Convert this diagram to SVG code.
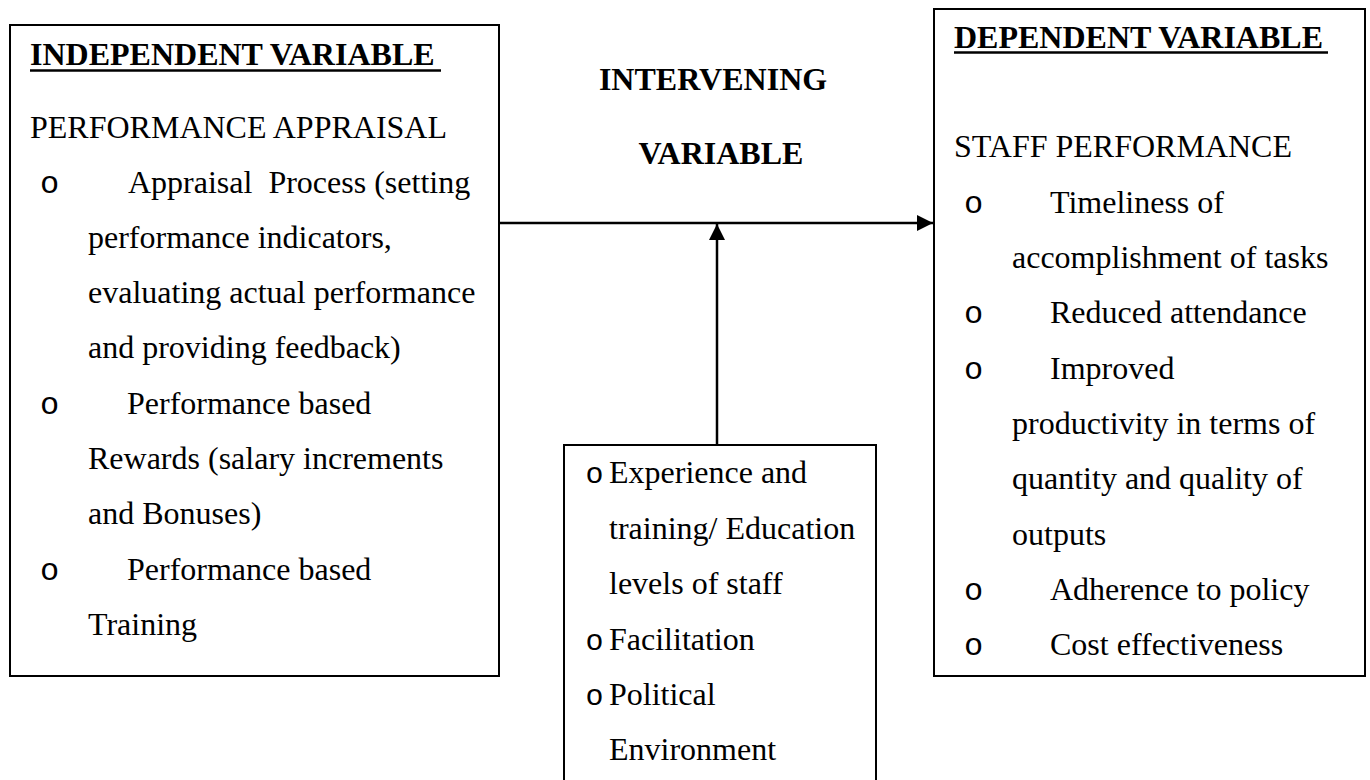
<svg xmlns="http://www.w3.org/2000/svg" width="1370" height="780" viewBox="0 0 1370 780">
  <style>
    .t { font-family: "Liberation Serif", "Times New Roman", serif; font-size: 32px; fill: #000; white-space: pre; }
    .b { font-weight: bold; }
    .mid { text-anchor: middle; }
    .bul { font-family: "Liberation Mono", "Courier New", monospace; font-size: 32px; fill: #000; text-anchor: middle; }
    .bul-s { font-family: "Liberation Mono", "Courier New", monospace; font-size: 30px; fill: #000; text-anchor: middle; }
    .box { fill: #fff; stroke: #000; stroke-width: 2; }
    .ul { stroke: #000; stroke-width: 2.5; }
    .conn { stroke: #000; stroke-width: 2.5; fill: none; marker-end: url(#arrow); }
  </style>
  <defs>
    <marker id="arrow" markerUnits="userSpaceOnUse" markerWidth="16" markerHeight="16" refX="16" refY="8" orient="auto">
      <path d="M0,0 L16,8 L0,16 z" fill="#000"/>
    </marker>
  </defs>
  <rect width="1370" height="780" fill="#fff"/>

  <!-- Independent variable -->
  <g id="independent">
    <rect class="box" x="10" y="25" width="489" height="651"/>
    <text class="t b" x="30" y="65">INDEPENDENT VARIABLE</text>
    <line class="ul" x1="30" y1="70.5" x2="441" y2="70.5"/>
    <text class="t" x="30" y="138">PERFORMANCE APPRAISAL</text>
    <text class="bul" x="49.5" y="193">o</text>
    <text class="t" x="128" y="193" xml:space="preserve">Appraisal  Process (setting</text>
    <text class="t" x="88" y="248">performance indicators,</text>
    <text class="t" x="88" y="303">evaluating actual performance</text>
    <text class="t" x="88" y="358">and providing feedback)</text>
    <text class="bul" x="49.5" y="414">o</text>
    <text class="t" x="127" y="414">Performance based</text>
    <text class="t" x="88" y="469">Rewards (salary increments</text>
    <text class="t" x="88" y="524">and Bonuses)</text>
    <text class="bul" x="49.5" y="580">o</text>
    <text class="t" x="127" y="580">Performance based</text>
    <text class="t" x="88" y="635">Training</text>
  </g>

  <!-- Intervening variable title -->
  <g id="intervening-title">
    <text class="t b mid" x="713" y="90">INTERVENING</text>
    <text class="t b mid" x="721" y="164">VARIABLE</text>
  </g>

  <!-- Intervening factors -->
  <g id="intervening">
    <rect class="box" x="564" y="445" width="312" height="345"/>
    <text class="bul-s" x="594.5" y="483">o</text>
    <text class="t" x="609" y="483">Experience and</text>
    <text class="t" x="609" y="538.5">training/ Education</text>
    <text class="t" x="609" y="594">levels of staff</text>
    <text class="bul-s" x="594.5" y="649.5">o</text>
    <text class="t" x="609" y="649.5">Facilitation</text>
    <text class="bul-s" x="594.5" y="705">o</text>
    <text class="t" x="609" y="705">Political</text>
    <text class="t" x="609" y="760">Environment</text>
  </g>

  <!-- Dependent variable -->
  <g id="dependent">
    <rect class="box" x="934" y="9" width="431" height="667"/>
    <text class="t b" x="954" y="48">DEPENDENT VARIABLE</text>
    <line class="ul" x1="954" y1="52.5" x2="1328" y2="52.5"/>
    <text class="t" x="954" y="157">STAFF PERFORMANCE</text>
    <text class="bul" x="973.5" y="213">o</text>
    <text class="t" x="1050" y="213">Timeliness of</text>
    <text class="t" x="1012" y="268">accomplishment of tasks</text>
    <text class="bul" x="973.5" y="323">o</text>
    <text class="t" x="1050" y="323">Reduced attendance</text>
    <text class="bul" x="973.5" y="379">o</text>
    <text class="t" x="1050" y="379">Improved</text>
    <text class="t" x="1012" y="434">productivity in terms of</text>
    <text class="t" x="1012" y="489">quantity and quality of</text>
    <text class="t" x="1012" y="545">outputs</text>
    <text class="bul" x="973.5" y="600">o</text>
    <text class="t" x="1050" y="600">Adherence to policy</text>
    <text class="bul" x="973.5" y="655">o</text>
    <text class="t" x="1050" y="655">Cost effectiveness</text>
  </g>

  <!-- Connectors -->
  <g id="connectors">
    <line class="conn" x1="499" y1="223" x2="933" y2="223"/>
    <line class="conn" x1="717" y1="445" x2="717" y2="224"/>
  </g>
</svg>
